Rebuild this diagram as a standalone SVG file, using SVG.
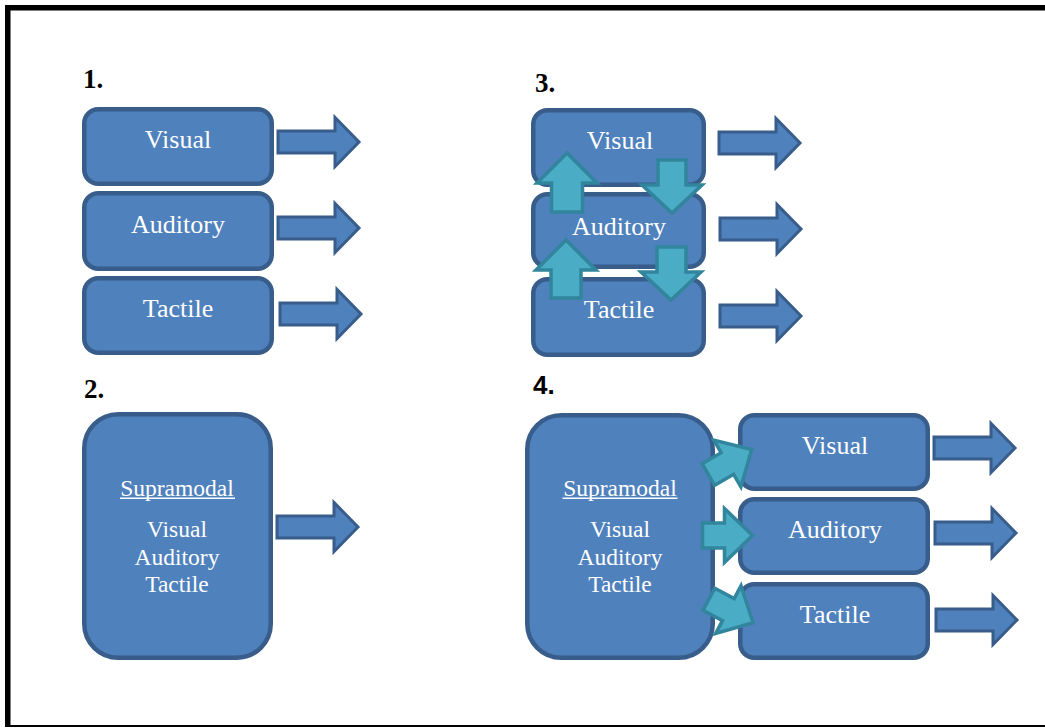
<svg xmlns="http://www.w3.org/2000/svg" width="1045" height="728" viewBox="0 0 1045 728">
  <style>
    .box { fill: #4f81bd; stroke: #385d8a; stroke-width: 4.5; }
    .lbl { font-family: "Liberation Serif", "Times New Roman", serif; font-size: 26px; fill: #ffffff; text-anchor: middle; }
    .lbl-sm { font-family: "Liberation Serif", "Times New Roman", serif; font-size: 23.5px; fill: #ffffff; text-anchor: middle; }
    .num { font-family: "Liberation Serif", "Times New Roman", serif; font-size: 27px; font-weight: bold; fill: #000000; }
    .num-sans { font-family: "Liberation Sans", Arial, sans-serif; font-size: 26px; font-weight: bold; fill: #000000; }
    .out { fill: #4f81bd; stroke: #385d8a; stroke-width: 3; stroke-linejoin: miter; }
    .link { fill: #4bacc6; stroke: #31859c; stroke-width: 3.5; stroke-linejoin: miter; }
  </style>
  <defs>
    <!-- block output arrow, origin at tail centre -->
    <path id="outArrow" d="M0,-11 H57 V-24.5 L81,0 L57,24.5 V11 H0 Z"/>
    <!-- short block arrow, origin at its centre -->
    <path id="linkArrow" d="M-25,-12.5 H-3 V-27 L25,0 L-3,27 V12.5 H-25 Z"/>
  </defs>

  <rect width="1045" height="728" fill="#ffffff"/>

  <!-- frame -->
  <g id="frame" fill="#000000">
    <rect x="5" y="5" width="1040" height="5.5"/>
    <rect x="5" y="5" width="5.5" height="722"/>
    <rect x="5" y="725" width="1040" height="2"/>
  </g>

  <!-- section numbers -->
  <g id="numbers">
    <text class="num" x="83" y="88">1.</text>
    <text class="num" x="84" y="398">2.</text>
    <text class="num" x="535" y="92">3.</text>
    <text class="num-sans" x="533" y="394">4.</text>
  </g>

  <!-- 1. separate channels -->
  <g id="p1-visual">
    <rect class="box" x="84.25" y="109.25" width="187.5" height="74.5" rx="14"/>
    <text class="lbl" x="178" y="148">Visual</text>
  </g>
  <g id="p1-auditory">
    <rect class="box" x="84.25" y="193.25" width="187.5" height="75.5" rx="14"/>
    <text class="lbl" x="178" y="233">Auditory</text>
  </g>
  <g id="p1-tactile">
    <rect class="box" x="84.25" y="278.25" width="187.5" height="74.5" rx="14"/>
    <text class="lbl" x="178" y="317">Tactile</text>
  </g>

  <!-- 2. supramodal -->
  <g id="p2-supramodal">
    <rect class="box" x="84.25" y="414.25" width="186.5" height="243.5" rx="34"/>
    <text class="lbl-sm" x="177" y="496">Supramodal</text>
    <rect x="120" y="497.5" width="115" height="1.5" fill="#ffffff"/>
    <text class="lbl-sm" x="177" y="537">Visual</text>
    <text class="lbl-sm" x="177" y="565">Auditory</text>
    <text class="lbl-sm" x="177" y="592">Tactile</text>
  </g>

  <!-- 3. interacting channels -->
  <g id="p3-visual">
    <rect class="box" x="533.25" y="110.25" width="170.5" height="74.5" rx="14"/>
    <text class="lbl" x="620" y="149">Visual</text>
  </g>
  <g id="p3-auditory">
    <rect class="box" x="533.25" y="194.25" width="170.5" height="72.5" rx="14"/>
    <text class="lbl" x="619" y="235">Auditory</text>
  </g>
  <g id="p3-tactile">
    <rect class="box" x="533.25" y="279.25" width="170.5" height="75.5" rx="14"/>
    <text class="lbl" x="619" y="318">Tactile</text>
  </g>

  <!-- 4. supramodal feeding channels -->
  <g id="p4-supramodal">
    <rect class="box" x="527.25" y="415.25" width="185.5" height="242.5" rx="34"/>
    <text class="lbl-sm" x="620" y="496">Supramodal</text>
    <rect x="562.5" y="497.5" width="115" height="1.5" fill="#ffffff"/>
    <text class="lbl-sm" x="620" y="537">Visual</text>
    <text class="lbl-sm" x="620" y="565">Auditory</text>
    <text class="lbl-sm" x="620" y="592">Tactile</text>
  </g>
  <g id="p4-visual">
    <rect class="box" x="740.25" y="415.25" width="187.5" height="73.5" rx="14"/>
    <text class="lbl" x="835" y="454">Visual</text>
  </g>
  <g id="p4-auditory">
    <rect class="box" x="740.25" y="499.25" width="187.5" height="73.5" rx="14"/>
    <text class="lbl" x="835" y="538">Auditory</text>
  </g>
  <g id="p4-tactile">
    <rect class="box" x="740.25" y="584.25" width="187.5" height="73.5" rx="14"/>
    <text class="lbl" x="835" y="623">Tactile</text>
  </g>

  <!-- connectors -->
  <g id="connectors">
    <!-- outputs -->
    <use href="#outArrow" class="out" transform="translate(278,142)"/>
    <use href="#outArrow" class="out" transform="translate(278,228)"/>
    <use href="#outArrow" class="out" transform="translate(280,314)"/>
    <use href="#outArrow" class="out" transform="translate(277,527)"/>
    <use href="#outArrow" class="out" transform="translate(719,143)"/>
    <use href="#outArrow" class="out" transform="translate(720,229)"/>
    <use href="#outArrow" class="out" transform="translate(720,316)"/>
    <use href="#outArrow" class="out" transform="translate(934,448)"/>
    <use href="#outArrow" class="out" transform="translate(935,533)"/>
    <use href="#outArrow" class="out" transform="translate(936,620)"/>

    <!-- cross-talk between channels -->
    <path class="link" d="M567,153 L597,183 H582.5 V212 H551.5 V183 H537 Z"/>
    <path class="link" d="M658,160 H686 V185 H702 L672,213 L642,185 H658 Z"/>
    <path class="link" d="M566,240 L596,270 H581 V298 H551 V270 H536 Z"/>
    <path class="link" d="M657,247 H686 V272 H701 L671,300 L641,272 H657 Z"/>

    <!-- supramodal to channels -->
    <use href="#linkArrow" class="link" transform="translate(730,462) rotate(-30)"/>
    <use href="#linkArrow" class="link" transform="translate(727.5,535.5)"/>
    <use href="#linkArrow" class="link" transform="translate(731,611) rotate(28)"/>
  </g>
</svg>
